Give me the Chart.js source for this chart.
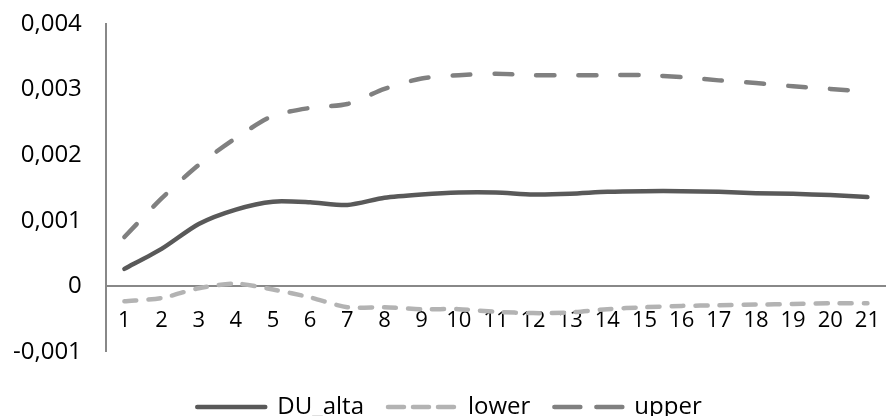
<!DOCTYPE html>
<html>
<head>
<meta charset="utf-8">
<script src="https://cdn.jsdelivr.net/npm/chart.js@4/dist/chart.umd.min.js"></script>
<style>
  html, body { margin: 0; padding: 0; background: #fff; }
  #wrap { width: 886px; height: 416px; }
</style>
</head>
<body>
<div id="wrap"><canvas id="chart" width="886" height="416"></canvas></div>
<script>
var periods = ['1','2','3','4','5','6','7','8','9','10','11','12','13','14','15','16','17','18','19','20','21'];

var duAlta = [0.000265, 0.00057, 0.00095, 0.00117, 0.00129, 0.00128, 0.00124, 0.00135, 0.0014, 0.00143, 0.00143,
	0.0014, 0.00141, 0.00144, 0.00145, 0.00145, 0.00144, 0.00142, 0.00141, 0.00139, 0.00136];
var lower = [-0.00023, -0.00018, -0.00003, 0.00004, -0.00005, -0.00017, -0.00032, -0.00032, -0.00035, -0.00035, -0.00039,
	-0.00041, -0.0004, -0.00035, -0.00032, -0.0003, -0.00029, -0.00028, -0.00027, -0.00026, -0.00026];
var upper = [0.00075, 0.00134, 0.00185, 0.00226, 0.0026, 0.00272, 0.00278, 0.00301, 0.00317, 0.00322, 0.00324,
	0.00322, 0.00322, 0.00322, 0.00322, 0.00319, 0.00314, 0.0031, 0.00305, 0.00301, 0.00297];

var yMin = -0.001, yMax = 0.004, yStep = 0.001;

// legend samples use longer dashes than the plotted lines
var legendDash = [[], [16, 9], [26, 16]];

function fmtTick(v)
{
	var r = Math.round(v * 1000) / 1000;
	if (r === 0) return '0';
	return r.toFixed(3).replace('.', ',');
}

var font = { family: "'Open Sans', 'Liberation Sans', sans-serif", size: 24 };
var xFont = { family: "'Open Sans', 'Liberation Sans', sans-serif", size: 22 };

new Chart(document.getElementById('chart').getContext('2d'), {
	type: 'line',
	data: {
		labels: periods,
		datasets: [
			{ label: 'DU_alta', data: duAlta, borderColor: '#595959', borderWidth: 4.5, borderCapStyle: 'round',
				pointRadius: 0, pointStyle: 'line', tension: 0.25 },
			{ label: 'lower', data: lower, borderColor: '#b3b3b3', borderWidth: 4.5, borderCapStyle: 'round',
				borderDash: [12, 12], pointRadius: 0, pointStyle: 'line', tension: 0.25 },
			{ label: 'upper', data: upper, borderColor: '#808080', borderWidth: 4.5, borderCapStyle: 'round',
				borderDash: [18, 24], pointRadius: 0, pointStyle: 'line', tension: 0.25 }
		]
	},
	options: {
		responsive: false,
		animation: false,
		layout: { padding: { top: 24, right: 0, bottom: -13, left: 13 } },
		plugins: {
			tooltip: { enabled: false },
			legend: {
				position: 'bottom',
				title: { display: true, text: '', font: { size: 1 }, padding: { top: 11, bottom: 7 } },
				labels: {
					usePointStyle: true,
					pointStyleWidth: 68,
					color: '#000',
					font: font,
					padding: 24,
					generateLabels: function (chart) {
						var items = Chart.defaults.plugins.legend.labels.generateLabels(chart);
						items.forEach(function (it) {
							it.lineDash = legendDash[it.datasetIndex];
							it.lineCap = 'round';
							it.lineWidth = 4.5;
						});
						return items;
					}
				}
			}
		},
		scales: {
			x: {
				position: { y: 0 },
				offset: true,
				grid: { display: true, drawOnChartArea: false, drawTicks: true, tickLength: 21, color: 'rgba(0,0,0,0)' },
				border: { display: true, color: '#888888', width: 2 },
				ticks: { color: '#000', font: xFont, padding: 0, maxRotation: 0, autoSkip: false }
			},
			y: {
				min: yMin,
				max: yMax,
				grid: { display: false, drawTicks: false },
				border: { display: true, color: '#888888', width: 2 },
				ticks: { stepSize: yStep, color: '#000', font: font, padding: 24, callback: fmtTick },
				afterFit: function (scale) {
					scale.paddingTop = 0;
					scale.paddingBottom = 0;
					scale.width -= 24;
				}
			}
		}
	}
});
</script>
</body>
</html>
